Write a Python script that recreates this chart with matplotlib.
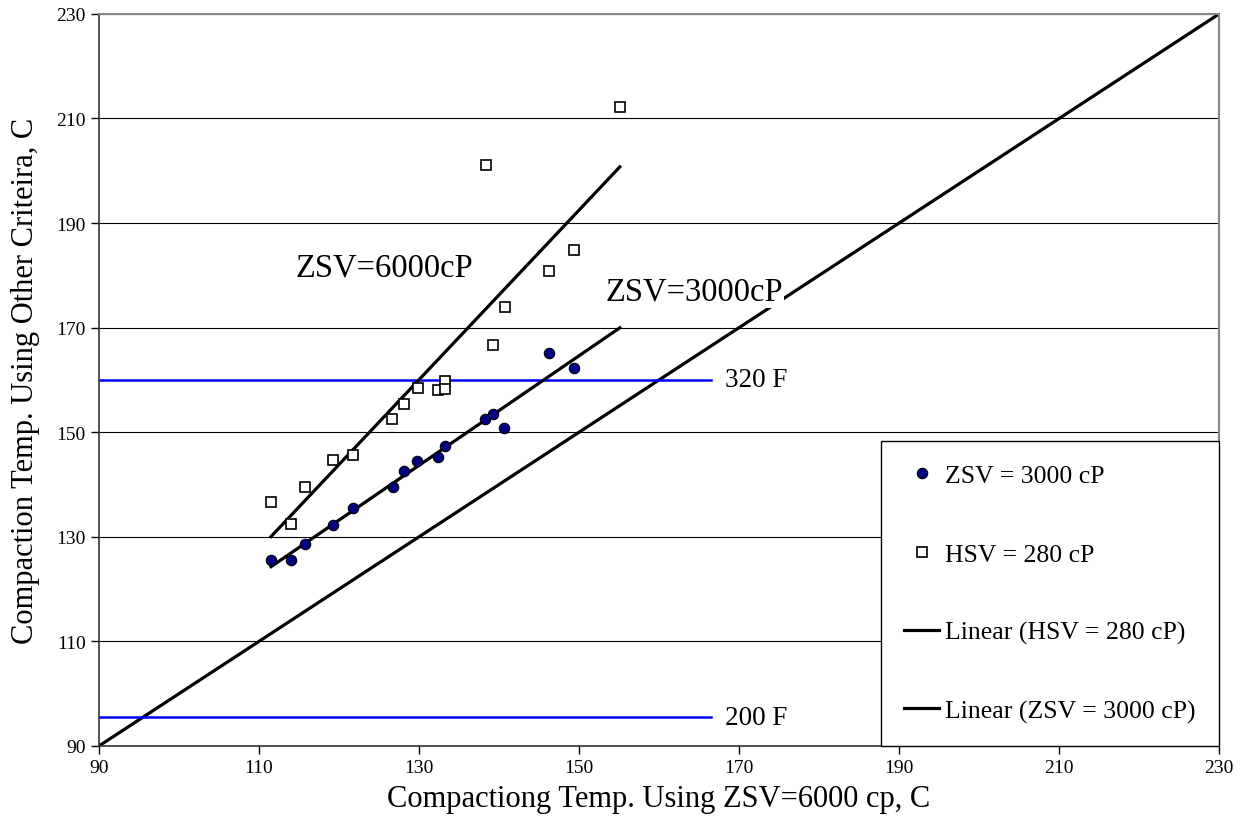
import matplotlib.pyplot as plt
import numpy as np

plt.rcParams['font.family'] = ['Liberation Serif', 'DejaVu Serif']

# ZSV = 3000 cP vs ZSV = 6000 cP compaction temperatures, C
zsv_x = [111.5, 114.0, 115.8, 119.3, 121.7, 126.7, 128.1, 129.8, 132.4, 133.2,
         138.3, 139.2, 140.6, 146.25, 149.4]
zsv_y = [125.5, 125.5, 128.7, 132.2, 135.6, 139.6, 142.5, 144.5, 145.2, 147.4,
         152.5, 153.5, 150.9, 165.2, 162.3]

# HSV = 280 cP
hsv_x = [111.5, 114.0, 115.8, 119.3, 121.7, 126.6, 128.1, 129.9, 132.4, 133.2,
         133.2, 138.4, 139.2, 140.7, 146.25, 149.4, 155.1]
hsv_y = [136.6, 132.5, 139.5, 144.6, 145.6, 152.5, 155.4, 158.4, 158.0, 159.7,
         158.3, 201.1, 166.7, 174.0, 180.9, 184.9, 212.2]

diag = [90, 230]            # line of equality
limit_320f = 160.0          # 320 F in C
limit_200f = 95.5           # 200 F line as drawn
limit_x = [90, 166.5]

fig = plt.figure(figsize=(12.44, 8.29), dpi=100)
ax = fig.add_axes([0.0796, 0.099, 0.9004, 0.883])

ax.set_xlim(90, 230)
ax.set_ylim(90, 230)
ax.set_xticks(np.arange(90, 231, 20))
ax.set_yticks(np.arange(90, 231, 20))
ax.yaxis.grid(True, color='black', lw=0.8)
ax.set_axisbelow(True)

ax.plot(diag, diag, color='black', lw=2.3, zorder=2)
ax.plot(limit_x, [limit_320f] * 2, color='#0000ff', lw=1.8, zorder=2)
ax.plot(limit_x, [limit_200f] * 2, color='#0000ff', lw=1.8, zorder=2)

# linear trendlines (least squares, like the Excel ones)
k1, b1 = np.polyfit(hsv_x, hsv_y, 1)
xs1 = np.array([min(hsv_x), max(hsv_x)])
k2, b2 = np.polyfit(zsv_x, zsv_y, 1)
xs2 = np.array([min(zsv_x), max(hsv_x)])

p_zsv, = ax.plot(zsv_x, zsv_y, 'o', ms=7.5, mfc='#000080', mec='black', mew=0.8,
                 zorder=4, label='ZSV = 3000 cP')
p_hsv, = ax.plot(hsv_x, hsv_y, 's', ms=7, mfc='white', mec='black', mew=1.2,
                 zorder=4, label='HSV = 280 cP')
l_hsv, = ax.plot(xs1, k1 * xs1 + b1, color='black', lw=2.3, zorder=3,
                 label='Linear (HSV = 280 cP)')
l_zsv, = ax.plot(xs2, k2 * xs2 + b2, color='black', lw=2.3, zorder=3,
                 label='Linear (ZSV = 3000 cP)')

ax.text(114.5, 181.6, 'ZSV=6000cP', fontsize=23.5, va='center', ha='left', zorder=5)
ax.text(153.3, 177.0, 'ZSV=3000cP', fontsize=23.5, va='center', ha='left', zorder=5,
        bbox=dict(facecolor='white', edgecolor='none', pad=1))
ax.text(168.3, limit_320f, '320 F', fontsize=19.5, va='center', ha='left')
ax.text(168.3, limit_200f, '200 F', fontsize=19.5, va='center', ha='left')

leg = ax.legend(handles=[p_zsv, p_hsv, l_hsv, l_zsv], loc='lower right',
                bbox_to_anchor=(1, 0), borderaxespad=0, fontsize=18.5,
                labelspacing=2.15, borderpad=0.9, handlelength=1.35,
                handletextpad=0.25, fancybox=False, framealpha=1,
                edgecolor='black')
leg.get_frame().set_linewidth(1.0)
leg.set_zorder(6)

for s in ['top', 'right']:
    ax.spines[s].set_color('#888888')
    ax.spines[s].set_linewidth(1.5)
for s in ['left', 'bottom']:
    ax.spines[s].set_color('#333333')
    ax.spines[s].set_linewidth(1.2)
ax.tick_params(direction='out', length=6, width=1, labelsize=14, colors='black')

ax.set_xlabel('Compactiong Temp. Using ZSV=6000 cp, C', fontsize=22, labelpad=6)
ax.set_ylabel('Compaction Temp. Using Other Criteira, C', fontsize=22, labelpad=12)

fig.savefig('out.png', dpi=100)
